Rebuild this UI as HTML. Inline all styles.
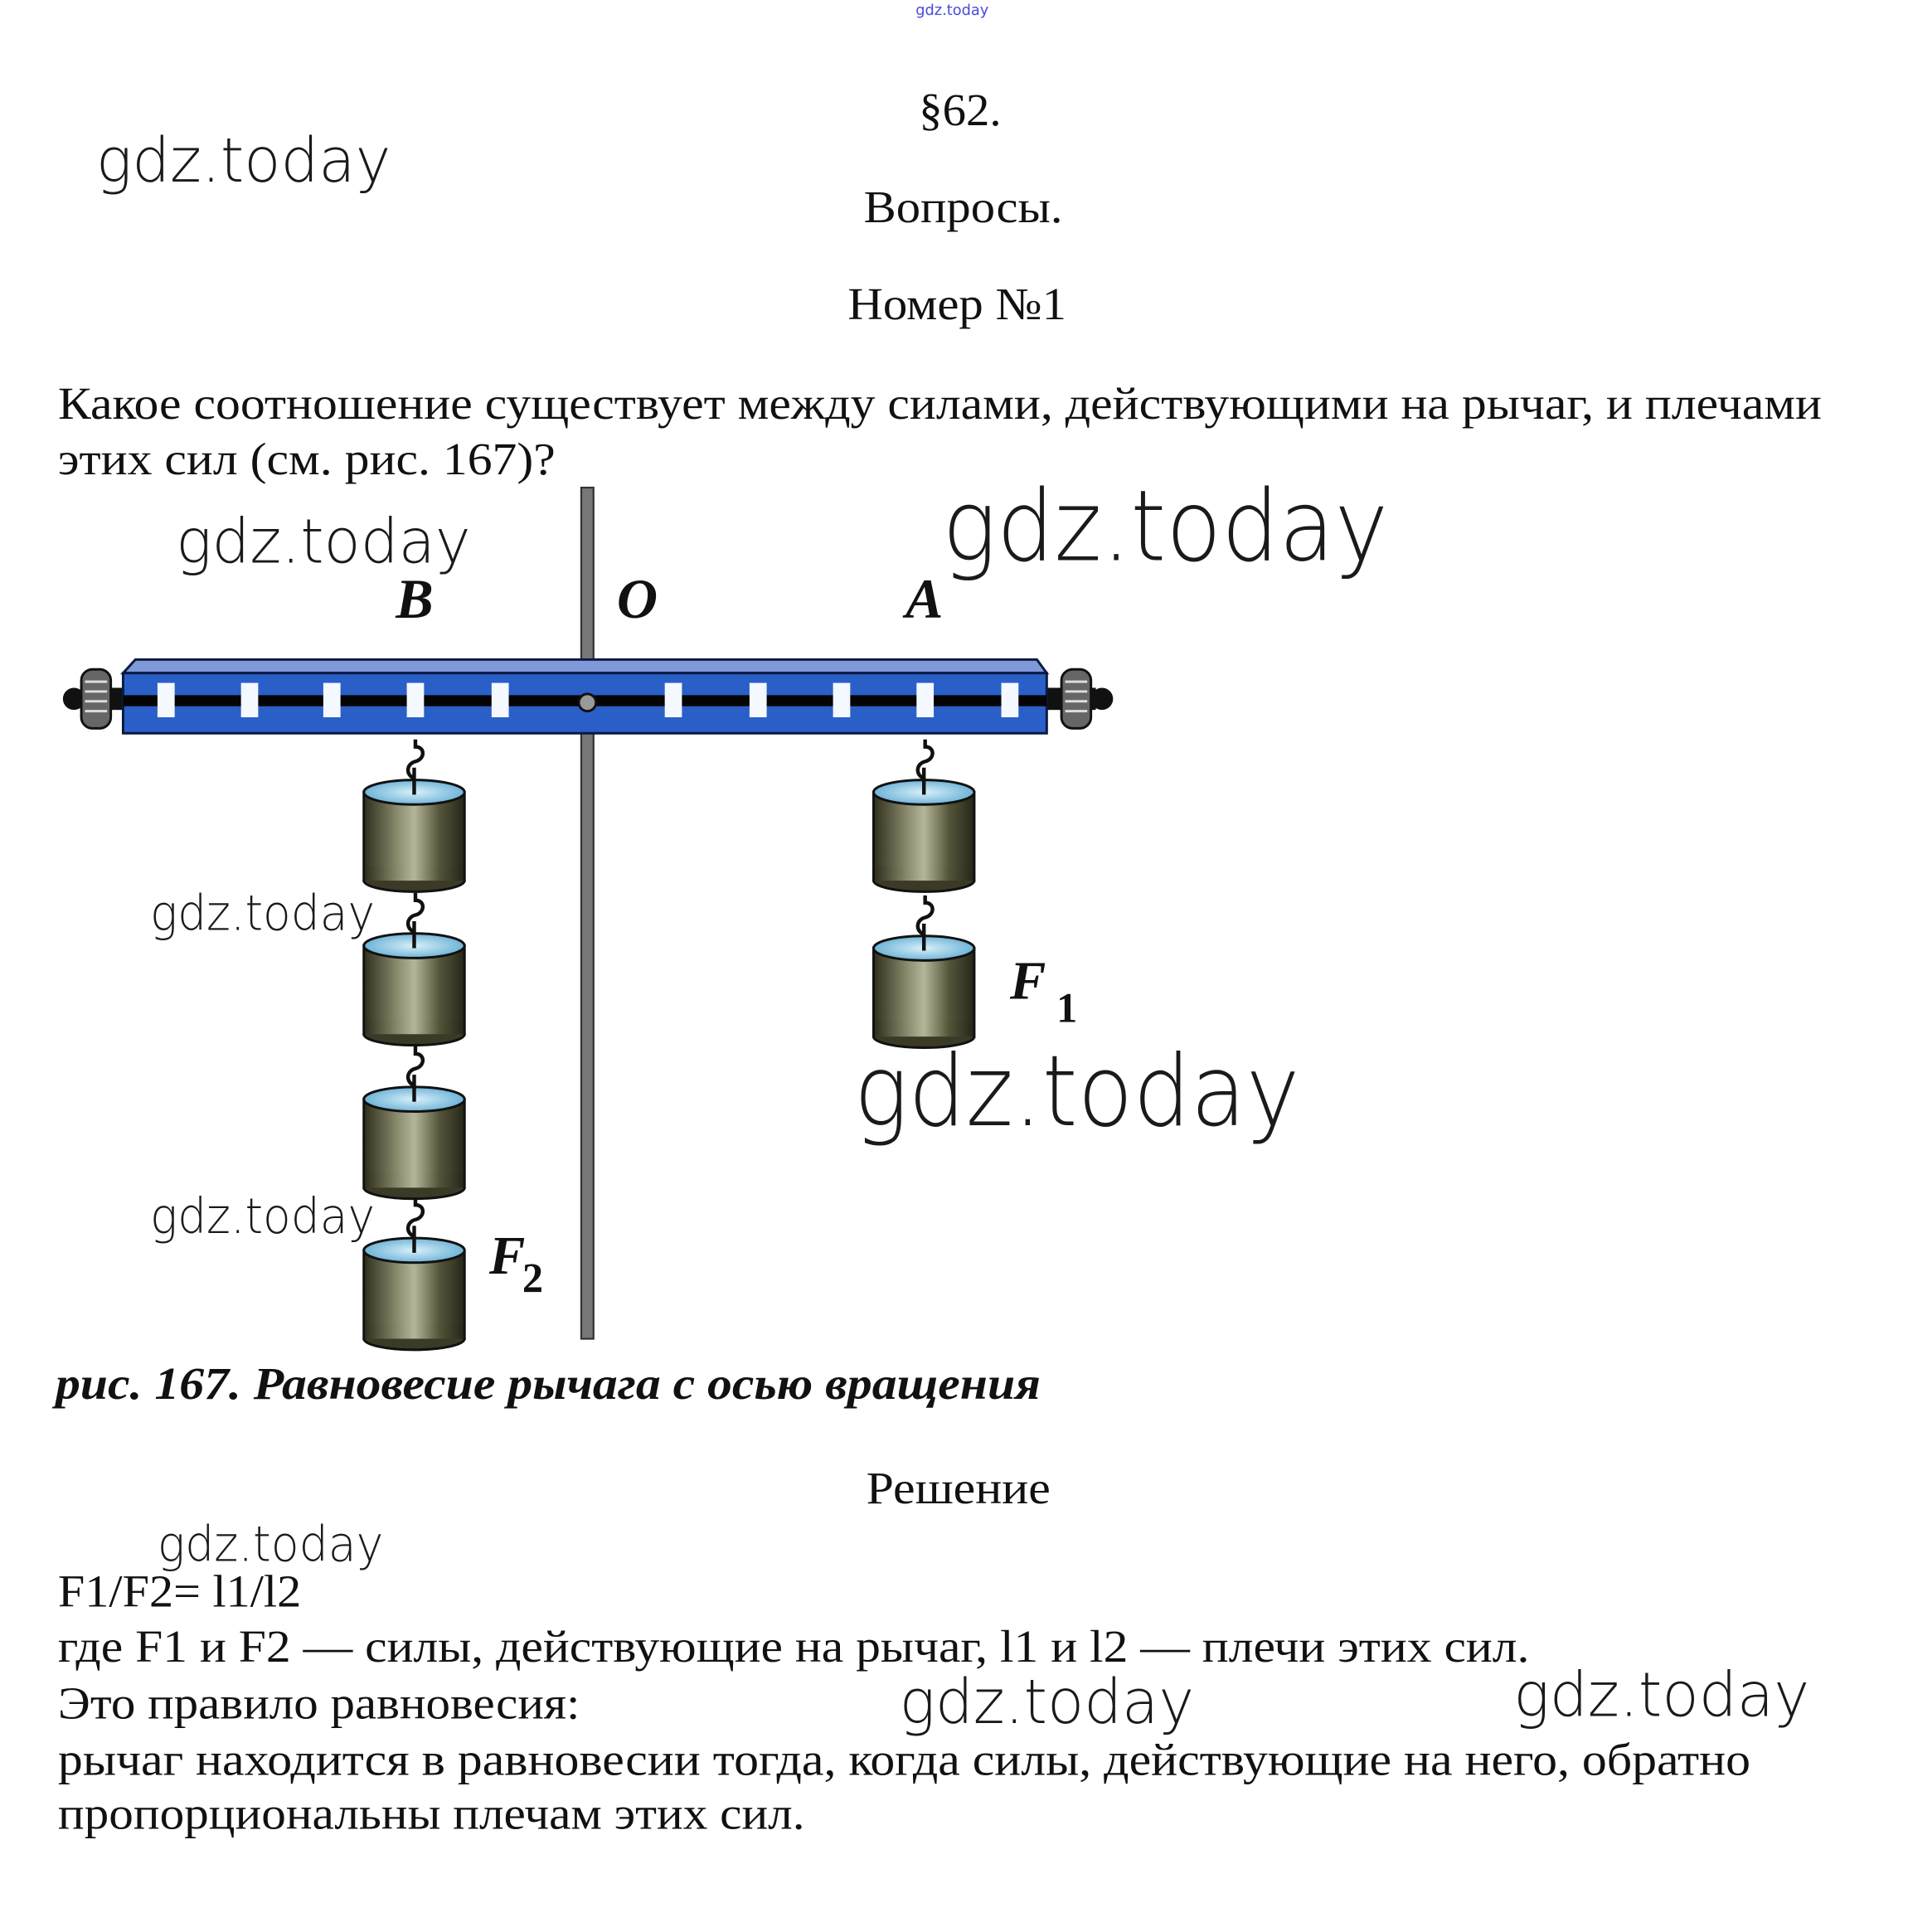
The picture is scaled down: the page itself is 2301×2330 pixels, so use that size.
<!DOCTYPE html>
<html><head><meta charset="utf-8">
<style>
html,body{margin:0;padding:0;background:#fff;}
svg{display:block;}
.t{font-family:"Liberation Serif",serif;fill:#111;}
.w{font-family:"DejaVu Sans","Liberation Sans",sans-serif;font-weight:200;fill:#1a1a1a;}
.l{font-family:"Liberation Serif",serif;font-weight:bold;font-style:italic;fill:#111;}
</style></head><body>
<svg width="2301" height="2330" viewBox="0 0 1553 1573" xmlns="http://www.w3.org/2000/svg">
<defs>
<linearGradient id="cyl" x1="0" x2="1" y1="0" y2="0">
<stop offset="0" stop-color="#2e2e1c"/>
<stop offset="0.35" stop-color="#8f8f72"/>
<stop offset="0.5" stop-color="#b5b59a"/>
<stop offset="0.75" stop-color="#55553a"/>
<stop offset="1" stop-color="#26261a"/>
</linearGradient>
<radialGradient id="top" cx="0.5" cy="0.5" r="0.6">
<stop offset="0" stop-color="#d8f0fa"/>
<stop offset="1" stop-color="#5aa8d0"/>
</radialGradient>
<g id="wt">
<rect x="-41" y="0" width="82" height="72" fill="url(#cyl)" stroke="#111" stroke-width="2"/>
<ellipse cx="0" cy="72" rx="41" ry="9" fill="#3a3a26" stroke="#111" stroke-width="2"/>
<rect x="-40" y="60" width="80" height="12" fill="url(#cyl)"/>
<ellipse cx="0" cy="0" rx="41" ry="10" fill="url(#top)" stroke="#111" stroke-width="2"/>
<line x1="0" y1="-20" x2="0" y2="2" stroke="#111" stroke-width="3"/>
</g>
<g id="hook">
<path d="M0 -38 L0 -32 C8 -32 8 -22 0 -20 C-8 -18 -8 -8 0 -6" fill="none" stroke="#111" stroke-width="3"/>
</g>
<g id="knob">
<rect x="-12" y="-24" width="24" height="48" rx="9" fill="#666" stroke="#111" stroke-width="2"/>
<line x1="-9" y1="-14" x2="9" y2="-14" stroke="#ddd" stroke-width="2"/>
<line x1="-9" y1="-6" x2="9" y2="-6" stroke="#ddd" stroke-width="2"/>
<line x1="-9" y1="2" x2="9" y2="2" stroke="#ddd" stroke-width="2"/>
<line x1="-9" y1="10" x2="9" y2="10" stroke="#ddd" stroke-width="2"/>
</g>
</defs>

<text x="775" y="12" text-anchor="middle" font-family="DejaVu Sans,sans-serif" font-size="12" fill="#4a4adc">gdz.today</text>

<text class="t" x="748" y="102" font-size="37" textLength="67" lengthAdjust="spacingAndGlyphs">§62.</text>
<text class="t" x="703" y="181" font-size="37" textLength="162" lengthAdjust="spacingAndGlyphs">Вопросы.</text>
<text class="t" x="690" y="260" font-size="37" textLength="178" lengthAdjust="spacingAndGlyphs">Номер №1</text>
<text class="t" x="47" y="341" font-size="37" textLength="1436" lengthAdjust="spacingAndGlyphs">Какое соотношение существует между силами, действующими на рычаг, и плечами</text>
<text class="t" x="47" y="386" font-size="37" textLength="405" lengthAdjust="spacingAndGlyphs">этих сил (см. рис. 167)?</text>

<text class="w" x="78" y="148" font-size="50" textLength="240" lengthAdjust="spacingAndGlyphs">gdz.today</text>

<!-- pole -->
<rect x="473" y="397" width="10" height="693" fill="#777" stroke="#333" stroke-width="1.5"/>

<!-- bar -->
<rect x="80" y="560" width="20" height="18" fill="#111"/>
<rect x="852" y="560" width="40" height="18" fill="#111"/>
<circle cx="60" cy="569" r="9" fill="#111"/>
<circle cx="897" cy="569" r="9" fill="#111"/>
<use href="#knob" x="78" y="569"/>
<use href="#knob" x="876" y="569"/>
<path d="M100 548 L110 537 L844 537 L852 548 Z" fill="#7f98d8" stroke="#0a1a40" stroke-width="2"/>
<rect x="100" y="548" width="752" height="49" fill="#2a5fc8" stroke="#0a1a40" stroke-width="2"/>
<rect x="100" y="566" width="752" height="9" fill="#050505"/>
<g fill="#f4f8ff">
<rect x="128" y="556" width="14" height="28"/>
<rect x="196" y="556" width="14" height="28"/>
<rect x="263" y="556" width="14" height="28"/>
<rect x="331" y="556" width="14" height="28"/>
<rect x="400" y="556" width="14" height="28"/>
<rect x="541" y="556" width="14" height="28"/>
<rect x="610" y="556" width="14" height="28"/>
<rect x="678" y="556" width="14" height="28"/>
<rect x="746" y="556" width="14" height="28"/>
<rect x="815" y="556" width="14" height="28"/>
</g>
<circle cx="478" cy="572" r="7" fill="#999" stroke="#111" stroke-width="2"/>

<text class="l" x="322" y="503" font-size="46">B</text>
<text class="l" x="502" y="503" font-size="46">O</text>
<text class="l" x="737" y="503" font-size="46">A</text>

<!-- left weights -->
<use href="#hook" x="338" y="640"/>
<use href="#wt" x="337" y="645"/>
<use href="#hook" x="338" y="765"/>
<use href="#wt" x="337" y="770"/>
<use href="#hook" x="338" y="890"/>
<use href="#wt" x="337" y="895"/>
<use href="#hook" x="338" y="1013"/>
<use href="#wt" x="337" y="1018"/>
<!-- right weights -->
<use href="#hook" x="753" y="640"/>
<use href="#wt" x="752" y="645"/>
<use href="#hook" x="753" y="767"/>
<use href="#wt" x="752" y="772"/>

<text class="l" x="822" y="813" font-size="44">F</text>
<text class="t" x="860" y="832" font-size="34" font-weight="bold">1</text>
<text class="l" x="398" y="1037" font-size="44">F</text>
<text class="t" x="425" y="1052" font-size="34" font-weight="bold">2</text>

<text class="w" x="143" y="458" font-size="50" textLength="240" lengthAdjust="spacingAndGlyphs">gdz.today</text>
<text class="w" x="767" y="456" font-size="80" textLength="363" lengthAdjust="spacingAndGlyphs">gdz.today</text>
<text class="w" x="122" y="757" font-size="40" textLength="183" lengthAdjust="spacingAndGlyphs">gdz.today</text>
<text class="w" x="695" y="916" font-size="80" textLength="363" lengthAdjust="spacingAndGlyphs">gdz.today</text>
<text class="w" x="122" y="1004" font-size="40" textLength="183" lengthAdjust="spacingAndGlyphs">gdz.today</text>

<text class="l" x="45" y="1139" font-size="37" textLength="802" lengthAdjust="spacingAndGlyphs">рис. 167. Равновесие рычага с осью вращения</text>

<text class="t" x="705" y="1224" font-size="37" textLength="150" lengthAdjust="spacingAndGlyphs">Решение</text>
<text class="w" x="128" y="1271" font-size="40" textLength="184" lengthAdjust="spacingAndGlyphs">gdz.today</text>
<text class="t" x="47" y="1308" font-size="37" textLength="198" lengthAdjust="spacingAndGlyphs">F1/F2= l1/l2</text>
<text class="t" x="47" y="1353" font-size="37" textLength="1198" lengthAdjust="spacingAndGlyphs">где F1 и F2 — силы, действующие на рычаг, l1 и l2 — плечи этих сил.</text>
<text class="t" x="47" y="1399" font-size="37" textLength="425" lengthAdjust="spacingAndGlyphs">Это правило равновесия:</text>
<text class="w" x="732" y="1403" font-size="50" textLength="240" lengthAdjust="spacingAndGlyphs">gdz.today</text>
<text class="w" x="1232" y="1397" font-size="50" textLength="241" lengthAdjust="spacingAndGlyphs">gdz.today</text>
<text class="t" x="47" y="1445" font-size="37" textLength="1378" lengthAdjust="spacingAndGlyphs">рычаг находится в равновесии тогда, когда силы, действующие на него, обратно</text>
<text class="t" x="47" y="1489" font-size="37" textLength="608" lengthAdjust="spacingAndGlyphs">пропорциональны плечам этих сил.</text>
</svg>
</body></html>
